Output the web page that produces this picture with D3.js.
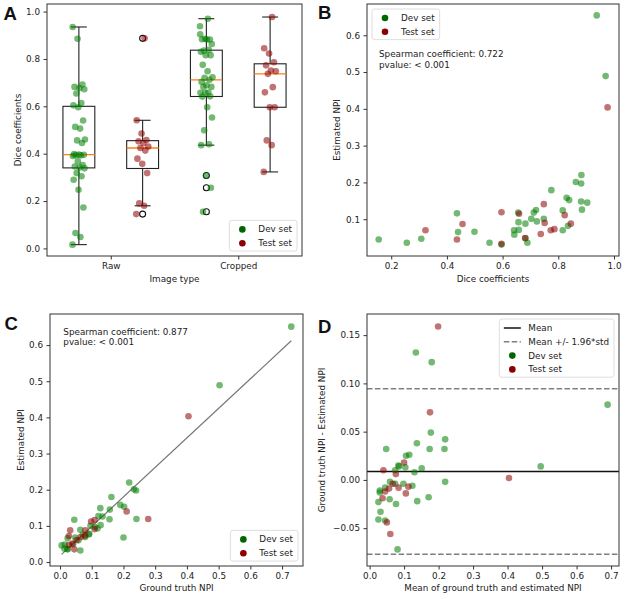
<!DOCTYPE html>
<html lang="en">
<head>
<meta charset="UTF-8" />
<title>Dice coefficients and NPI</title>
<style>
  body { margin: 0; background: #ffffff; }
  svg { display: block; font-family: 'DejaVu Sans', sans-serif; }
  .tick text { font-size: 8.8px; fill: #222; font-family: 'DejaVu Sans', sans-serif; }
  .tick line { stroke: #333; }
  .frame { fill: none; stroke: #333; stroke-width: 1; }
  .lbl { font-size: 8.8px; fill: #222; }
  .letter { font-family: 'Liberation Sans', Arial, sans-serif; font-weight: bold; font-size: 18.5px; fill: #111; }
</style>
<script src="https://d3js.org/d3.v7.min.js"></script>
</head>
<body>
<div id="fig"></div>
<script>
  // ---- data ----
  // Dice coefficients, raw images
  const rawDev = [0.016, 0.048, 0.065, 0.173, 0.248, 0.29, 0.305, 0.318, 0.338, 0.342,
                  0.346, 0.352, 0.368, 0.39, 0.393, 0.394, 0.395, 0.396, 0.398, 0.445,
                  0.456, 0.46, 0.506, 0.513, 0.54, 0.596, 0.604, 0.614, 0.654, 0.672,
                  0.677, 0.682, 0.692, 0.885, 0.935];
  const rawTest = [0.145, 0.18, 0.19, 0.318, 0.357, 0.379, 0.413, 0.424, 0.43, 0.445,
                   0.452, 0.458, 0.485, 0.541, 0.887];

  // Dice coefficients (cropped) and estimated NPI, as in panel B
  const devDice = [0.938, 0.970, 0.155, 0.256, 0.308, 0.436, 0.440, 0.499, 0.553, 0.596,
                   0.641, 0.642, 0.656, 0.657, 0.658, 0.682, 0.682, 0.689, 0.703, 0.712,
                   0.720, 0.723, 0.748, 0.775, 0.816, 0.816, 0.830, 0.839, 0.835, 0.863,
                   0.882, 0.883, 0.882, 0.885, 0.904];
  const devEstB = [0.654, 0.489, 0.045, 0.036, 0.047, 0.116, 0.065, 0.066, 0.036, 0.031,
                   0.070, 0.058, 0.118, 0.092, 0.071, 0.088, 0.048, 0.036, 0.101, 0.118,
                   0.125, 0.094, 0.101, 0.179, 0.124, 0.070, 0.158, 0.152, 0.082, 0.201,
                   0.197, 0.220, 0.148, 0.126, 0.145];
  const testDice = [0.323, 0.436, 0.456, 0.596, 0.596, 0.659, 0.681, 0.737, 0.748, 0.751,
                    0.773, 0.786, 0.823, 0.845, 0.977];
  const testEstB = [0.070, 0.045, 0.087, 0.119, 0.033, 0.115, 0.049, 0.060, 0.141, 0.090,
                    0.070, 0.073, 0.111, 0.088, 0.404];

  // Ground truth vs estimated NPI (panels C and D)
  const devGt  = [0.200, 0.241, 0.202, 0.240, 0.064, 0.156, 0.190, 0.233, 0.128, 0.118,
                  0.091, 0.079, 0.110, 0.157, 0.134, 0.218, 0.058, 0.121, 0.096, 0.024,
                  0.023, 0.041, 0.014, 0.048, 0.064, 0.127, 0.162, 0.015, 0.005, 0.024,
                  0.045, 0.503, 0.729, 0.072, 0.092];
  const devEst = [0.068, 0.119, 0.153, 0.198, 0.032, 0.118, 0.158, 0.201, 0.102, 0.093,
                  0.076, 0.069, 0.097, 0.145, 0.126, 0.220, 0.060, 0.127, 0.100, 0.035,
                  0.036, 0.049, 0.037, 0.068, 0.089, 0.149, 0.180, 0.048, 0.046, 0.066,
                  0.117, 0.489, 0.651, 0.076, 0.078];
  const testGt  = [0.278, 0.210, 0.045, 0.079, 0.109, 0.065, 0.039, 0.052, 0.080, 0.109,
                   0.098, 0.028, 0.028, 0.032, 0.405];
  const testEst = [0.119, 0.140, 0.035, 0.073, 0.091, 0.069, 0.051, 0.061, 0.088, 0.116,
                   0.112, 0.047, 0.072, 0.088, 0.403];

  const categories = ['Raw', 'Cropped'];
  const fitSlope = 0.816, fitIntercept = 0.017;          // grey line in C
  const baMean = 0.0088, baLow = -0.0771, baHigh = 0.0944; // lines in D

  const devColor = 'green', testColor = 'darkred';
  const devLegend = '#006400', testLegend = '#8b0000';
  const alpha = 0.55, rad = 3.3;

  const W = 625, H = 599;
  const svg = d3.select('#fig').append('svg').attr('width', W).attr('height', H);
  svg.append('rect').attr('width', W).attr('height', H).attr('fill', '#fff');

  // ---- helpers ----
  function axes(box, x, y, xt, yt, xfmt, yfmt) {
    svg.append('g').attr('transform', `translate(0,${box.y1})`)
       .call(d3.axisBottom(x).tickValues(xt).tickFormat(xfmt).tickSize(3.5).tickPadding(3.5))
       .call(g => g.select('.domain').remove());
    svg.append('g').attr('transform', `translate(${box.x0},0)`)
       .call(d3.axisLeft(y).tickValues(yt).tickFormat(yfmt).tickSize(3.5).tickPadding(3.5))
       .call(g => g.select('.domain').remove());
  }
  function frame(box) {
    svg.append('rect').attr('class', 'frame')
       .attr('x', box.x0).attr('y', box.y0)
       .attr('width', box.x1 - box.x0).attr('height', box.y1 - box.y0);
  }
  function labels(box, xl, yl, xlY, ylX, letter, lx, ly) {
    svg.append('text').attr('class', 'lbl').attr('text-anchor', 'middle')
       .attr('x', (box.x0 + box.x1) / 2).attr('y', xlY).attr('dy', '0.35em').text(xl);
    svg.append('text').attr('class', 'lbl').attr('text-anchor', 'middle')
       .attr('transform', `translate(${ylX},${(box.y0 + box.y1) / 2}) rotate(-90)`)
       .attr('dy', '0.35em').text(yl);
    svg.append('text').attr('class', 'letter').attr('x', lx).attr('y', ly).text(letter);
  }
  function dots(xs, ys, x, y, color) {
    svg.append('g').selectAll('circle').data(xs).join('circle')
       .attr('cx', (d, i) => x(d)).attr('cy', (d, i) => y(ys[i]))
       .attr('r', rad).attr('fill', color).attr('fill-opacity', alpha);
  }
  // items: {kind: 'dot'|'line'|'dash', color, label}; corner 'tl', 'tr', 'br'
  function legend(box, items, corner) {
    const g = svg.append('g');
    const bg = g.append('rect').attr('rx', 2.5).attr('fill', '#fff').attr('fill-opacity', 0.8)
                .attr('stroke', '#d6d6d6').attr('stroke-width', 0.8);
    const step = 13.8;
    let tw = 0;
    items.forEach((it, i) => {
      const cy = 9 + i * step;
      if (it.kind === 'dot') {
        g.append('circle').attr('cx', 13).attr('cy', cy).attr('r', rad).attr('fill', it.color);
      } else {
        g.append('line').attr('x1', 4.5).attr('x2', 21.5).attr('y1', cy).attr('y2', cy)
         .attr('stroke', it.color).attr('stroke-width', 1.5)
         .attr('stroke-dasharray', it.kind === 'dash' ? '5.5,2.4' : null);
      }
      const t = g.append('text').attr('class', 'lbl').attr('x', 29).attr('y', cy)
                 .attr('dy', '0.35em').text(it.label);
      tw = Math.max(tw, t.node().getComputedTextLength());
    });
    const w = 29 + tw + 5, h = step * items.length + 3;
    bg.attr('width', w).attr('height', h);
    const inset = 5;
    const gx = corner[1] === 'l' ? box.x0 + inset : box.x1 - inset - w;
    const gy = corner[0] === 't' ? box.y0 + inset : box.y1 - inset - h;
    g.attr('transform', `translate(${gx},${gy})`);
  }
  const setItems = [
    { kind: 'dot', color: devLegend, label: 'Dev set' },
    { kind: 'dot', color: testLegend, label: 'Test set' }
  ];

  // ---- panel A: box plots of Dice coefficients ----
  const boxA = { x0: 47, y0: 4, x1: 302, y1: 256 };
  const xA = d3.scaleLinear().domain([0.5, 4.5]).range([boxA.x0, boxA.x1]);
  const yA = d3.scaleLinear().domain([-0.032, 1.032]).range([boxA.y1, boxA.y0]);
  axes(boxA, xA, yA, [1.5, 3.5], [0, 0.2, 0.4, 0.6, 0.8, 1.0],
       (d, i) => categories[i], d3.format('.1f'));

  const groupsA = [
    { pos: 1, values: rawDev, color: devColor },
    { pos: 2, values: rawTest, color: testColor },
    { pos: 3, values: devDice, color: devColor },
    { pos: 4, values: testDice, color: testColor }
  ];
  function boxStats(vals) {
    const s = vals.slice().sort(d3.ascending);
    const q1 = d3.quantile(s, 0.25), med = d3.quantile(s, 0.5), q3 = d3.quantile(s, 0.75);
    const iqr = q3 - q1;
    const lo = d3.min(s.filter(v => v >= q1 - 1.5 * iqr));
    const hi = d3.max(s.filter(v => v <= q3 + 1.5 * iqr));
    return { q1, med, q3, lo, hi, out: s.filter(v => v < lo || v > hi) };
  }
  // fixed, deterministic horizontal spread for the strip points
  const jitter = i => ((i * 0.618034) % 1 - 0.5) * 0.2;

  groupsA.forEach(gr => {
    const st = boxStats(gr.values);
    const g = svg.append('g').attr('stroke', '#222').attr('stroke-width', 1.1).attr('fill', 'none');
    const cx = xA(gr.pos), hw = xA(gr.pos + 0.25) - cx, cw = hw / 2;
    g.append('line').attr('x1', cx).attr('x2', cx).attr('y1', yA(st.lo)).attr('y2', yA(st.q1));
    g.append('line').attr('x1', cx).attr('x2', cx).attr('y1', yA(st.q3)).attr('y2', yA(st.hi));
    g.append('line').attr('x1', cx - cw).attr('x2', cx + cw).attr('y1', yA(st.lo)).attr('y2', yA(st.lo));
    g.append('line').attr('x1', cx - cw).attr('x2', cx + cw).attr('y1', yA(st.hi)).attr('y2', yA(st.hi));
    g.append('rect').attr('x', cx - hw).attr('width', 2 * hw)
     .attr('y', yA(st.q3)).attr('height', yA(st.q1) - yA(st.q3));
    g.append('line').attr('x1', cx - hw).attr('x2', cx + hw)
     .attr('y1', yA(st.med)).attr('y2', yA(st.med)).attr('stroke', '#ff7f0e').attr('stroke-width', 1.3);
    g.selectAll('circle').data(st.out).join('circle')
     .attr('cx', cx).attr('cy', d => yA(d)).attr('r', 3).attr('stroke', '#111');
  });
  groupsA.forEach(gr => {
    svg.append('g').selectAll('circle').data(gr.values).join('circle')
       .attr('cx', (d, i) => xA(gr.pos + jitter(i)))
       .attr('cy', d => yA(d))
       .attr('r', rad).attr('fill', gr.color).attr('fill-opacity', alpha);
  });
  frame(boxA);
  legend(boxA, setItems, 'br');
  labels(boxA, 'Image type', 'Dice coefficients', 279.3, 18.3, 'A', 3.5, 20);

  // ---- panel B: Dice vs estimated NPI ----
  const boxB = { x0: 367, y0: 4, x1: 619, y1: 256 };
  const xB = d3.scaleLinear().domain([0.113, 1.018]).range([boxB.x0, boxB.x1]);
  const yB = d3.scaleLinear().domain([0.0, 0.685]).range([boxB.y1, boxB.y0]);
  axes(boxB, xB, yB, [0.2, 0.4, 0.6, 0.8, 1.0], [0.1, 0.2, 0.3, 0.4, 0.5, 0.6],
       d3.format('.1f'), d3.format('.1f'));
  dots(devDice, devEstB, xB, yB, devColor);
  dots(testDice, testEstB, xB, yB, testColor);
  frame(boxB);
  legend(boxB, setItems, 'tl');
  svg.append('text').attr('class', 'lbl').attr('x', 379).attr('y', 54).attr('dy', '0.35em')
     .text('Spearman coefficient: 0.722');
  svg.append('text').attr('class', 'lbl').attr('x', 379).attr('y', 64.5).attr('dy', '0.35em')
     .text('pvalue: < 0.001');
  labels(boxB, 'Dice coefficients', 'Estimated NPI', 279.3, 336.7, 'B', 318, 19.3);

  // ---- panel C: ground truth vs estimated NPI ----
  const boxC = { x0: 50, y0: 314, x1: 303, y1: 566 };
  const xC = d3.scaleLinear().domain([-0.0316, 0.766]).range([boxC.x0, boxC.x1]);
  const yC = d3.scaleLinear().domain([-0.011, 0.686]).range([boxC.y1, boxC.y0]);
  axes(boxC, xC, yC, d3.range(0, 0.71, 0.1), d3.range(0, 0.61, 0.1),
       d3.format('.1f'), d3.format('.1f'));
  const gtExt = d3.extent(devGt.concat(testGt));
  svg.append('line')
     .attr('x1', xC(gtExt[0])).attr('y1', yC(fitIntercept + fitSlope * gtExt[0]))
     .attr('x2', xC(gtExt[1])).attr('y2', yC(fitIntercept + fitSlope * gtExt[1]))
     .attr('stroke', '#777').attr('stroke-width', 1.2);
  dots(devGt, devEst, xC, yC, devColor);
  dots(testGt, testEst, xC, yC, testColor);
  frame(boxC);
  legend(boxC, setItems, 'br');
  svg.append('text').attr('class', 'lbl').attr('x', 63.3).attr('y', 331.7).attr('dy', '0.35em')
     .text('Spearman coefficient: 0.877');
  svg.append('text').attr('class', 'lbl').attr('x', 63.3).attr('y', 342.3).attr('dy', '0.35em')
     .text('pvalue: < 0.001');
  labels(boxC, 'Ground truth NPI', 'Estimated NPI', 588.3, 20.7, 'C', 4.5, 330);

  // ---- panel D: Bland-Altman ----
  const boxD = { x0: 367, y0: 314, x1: 619, y1: 566 };
  const xD = d3.scaleLinear().domain([-0.0076, 0.723]).range([boxD.x0, boxD.x1]);
  const yD = d3.scaleLinear().domain([-0.0892, 0.1719]).range([boxD.y1, boxD.y0]);
  axes(boxD, xD, yD, d3.range(0, 0.71, 0.1), [-0.05, 0, 0.05, 0.10, 0.15],
       d3.format('.1f'), d3.format('.2f'));
  const hline = (v, color, dash) => svg.append('line')
     .attr('x1', boxD.x0).attr('x2', boxD.x1).attr('y1', yD(v)).attr('y2', yD(v))
     .attr('stroke', color).attr('stroke-width', 1.5).attr('stroke-dasharray', dash);
  hline(baMean, '#111', null);
  hline(baHigh, '#808080', '5.5,2.4');
  hline(baLow, '#808080', '5.5,2.4');
  const meanOf = (a, b) => a.map((v, i) => (v + b[i]) / 2);
  const diffOf = (a, b) => a.map((v, i) => v - b[i]);
  dots(meanOf(devGt, devEst), diffOf(devGt, devEst), xD, yD, devColor);
  dots(meanOf(testGt, testEst), diffOf(testGt, testEst), xD, yD, testColor);
  frame(boxD);
  legend(boxD, [
    { kind: 'line', color: '#111', label: 'Mean' },
    { kind: 'dash', color: '#808080', label: 'Mean +/- 1.96*std' },
    setItems[0], setItems[1]
  ], 'tr');
  labels(boxD, 'Mean of ground truth and estimated NPI', 'Ground truth NPI - Estimated NPI',
         588.3, 321.7, 'D', 318, 333.3);
</script>
</body>
</html>
